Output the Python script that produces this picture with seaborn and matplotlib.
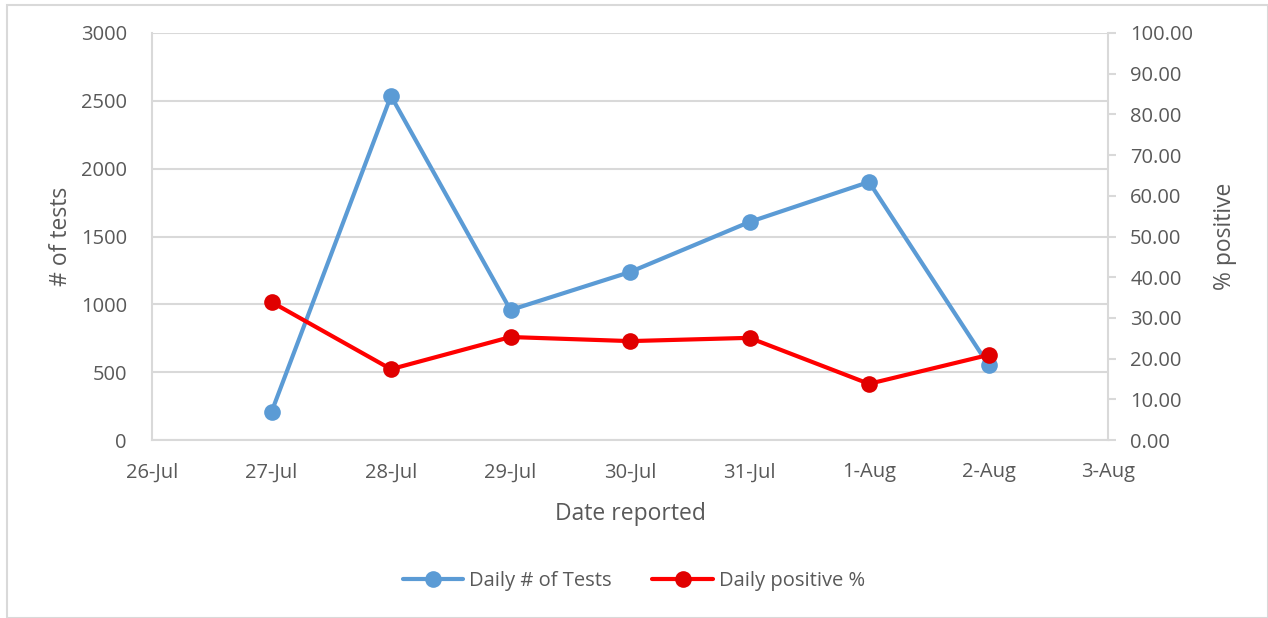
import pandas as pd
import matplotlib
matplotlib.use("Agg")
import matplotlib.pyplot as plt
import matplotlib.dates as mdates
from matplotlib.patches import Rectangle
import seaborn as sns

# Data
dates = ["2020-07-27", "2020-07-28", "2020-07-29", "2020-07-30",
         "2020-07-31", "2020-08-01", "2020-08-02"]
daily_tests = [206, 2536, 958, 1238, 1607, 1902, 553]
positive_pct = [33.9, 17.4, 25.3, 24.3, 25.1, 13.8, 20.9]

df = pd.DataFrame({
    "date": pd.to_datetime(dates),
    "tests": daily_tests,
    "pos": positive_pct,
})

sns.set_theme(style="white")
plt.rcParams["font.family"] = ["Open Sans", "DejaVu Sans"]

txt = "#595959"
grid_c = "#D9D9D9"
blue = "#5B9BD5"

fig = plt.figure(figsize=(12.68, 6.18), dpi=100)
ax = fig.add_axes([152 / 1268, 1 - 440 / 618, (1108 - 152) / 1268, (440 - 33) / 618])
ax2 = ax.twinx()

# Outer chart border
fig.patches.append(Rectangle((7 / 1268, 0), 1 - 7 / 1268, 1 - 5 / 618,
                             transform=fig.transFigure, fill=False,
                             edgecolor=grid_c, linewidth=1.5))

sns.lineplot(data=df, x="date", y="tests", ax=ax, color=blue, linewidth=3,
             marker="o", markersize=12, markeredgewidth=0, label="Daily # of Tests",
             legend=False)
sns.lineplot(data=df, x="date", y="pos", ax=ax2, color="#FF0000", linewidth=3,
             marker="o", markersize=12, markeredgewidth=0,
             markerfacecolor="#E00000", label="Daily positive %", legend=False)

ax.set_ylim(0, 3000)
ax.set_yticks(range(0, 3001, 500))
ax2.set_ylim(0, 100)
ax2.set_yticks(range(0, 101, 10))
ax2.set_yticklabels([f"{v:.2f}" for v in range(0, 101, 10)])

ax.set_xlim(pd.Timestamp("2020-07-26"), pd.Timestamp("2020-08-03"))
ax.xaxis.set_major_locator(mdates.DayLocator())
ax.xaxis.set_major_formatter(
    matplotlib.ticker.FuncFormatter(lambda v, p: f"{mdates.num2date(v).day}-{mdates.num2date(v):%b}"))

ax.yaxis.grid(True, color=grid_c, linewidth=1.5)
ax.set_axisbelow(True)
ax2.set_zorder(ax.get_zorder() + 1)
ax2.patch.set_visible(False)

for a in (ax, ax2):
    for s in a.spines.values():
        s.set_visible(False)
ax.spines["left"].set_visible(True)
ax.spines["bottom"].set_visible(True)
ax2.spines["right"].set_visible(True)
for s in (ax.spines["left"], ax.spines["bottom"], ax2.spines["right"]):
    s.set_color(grid_c)
    s.set_linewidth(1.5)

ax.tick_params(axis="x", length=0, labelsize=14.5, labelcolor=txt, pad=16)
ax.tick_params(axis="y", length=0, labelsize=14.5, labelcolor=txt, pad=18)
ax2.tick_params(axis="y", length=6, width=1.5, color=grid_c, labelsize=14.5,
                labelcolor=txt, pad=10)

ax.set_xlabel("Date reported", fontsize=16.5, color=txt, labelpad=14)
ax.set_ylabel("# of tests", fontsize=16.5, color=txt, labelpad=6)
ax2.set_ylabel("% positive", fontsize=16.5, color=txt, labelpad=14)

h1, l1 = ax.get_legend_handles_labels()
h2, l2 = ax2.get_legend_handles_labels()
fig.legend(h1 + h2, l1 + l2, loc="center", bbox_to_anchor=(0.5, 1 - 581 / 618),
           ncol=2, frameon=False, fontsize=14.5, labelcolor=txt,
           handlelength=3, columnspacing=2, handletextpad=0.3)

fig.savefig("out.png", dpi=100)
